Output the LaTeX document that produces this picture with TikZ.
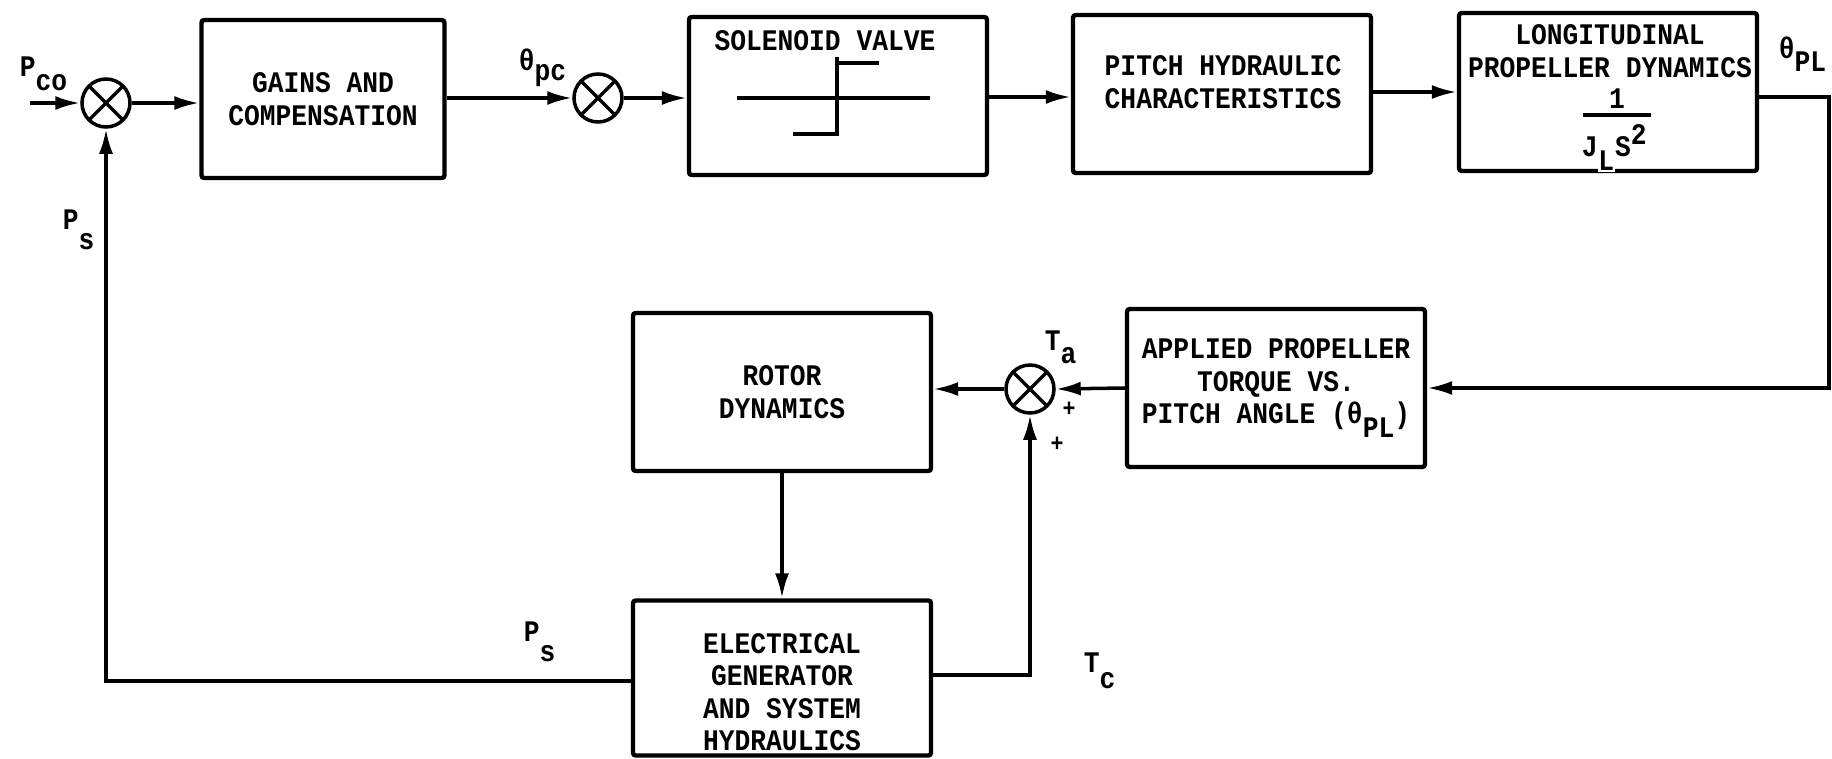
\documentclass[tikz,border=0pt]{standalone}
\usepackage{fontspec}
\setmainfont[FakeStretch=0.88]{Liberation Mono}
\usetikzlibrary{arrows.meta,positioning,calc}
\newcommand{\lo}[2][0.45em]{\raisebox{-#1}{#2}}
\newcommand{\hi}[2][0.8em]{\raisebox{#1}{#2}}

\begin{document}
\begin{tikzpicture}[x=0.02cm, y=-0.02cm, line width=2pt, >={Latex[length=0.5cm,width=0.28cm]},
    font=\fontsize{17}{18.5}\selectfont\bfseries,
    block/.style={draw, line width=2.5pt, rounded corners=1.5pt, minimum width=5.96cm, minimum height=3.16cm, align=center, inner sep=0pt},
    sumj/.style={draw, circle, minimum size=0.96cm, inner sep=0pt,
      path picture={\draw[line width=1.9pt] (path picture bounding box.north west) -- (path picture bounding box.south east)
        (path picture bounding box.north east) -- (path picture bounding box.south west);}},
    lbl/.style={inner sep=0pt, anchor=base west},
    sgn/.style={inner sep=0pt, font=\fontsize{14}{14}\selectfont\bfseries}]
  \useasboundingbox (0,0) rectangle (1832,758);
  % forward path
  \coordinate (in) at (30,103);
  \node[sumj] (s1) at (106,103) {};
  \node[block, minimum width=4.86cm] (gains) at (323,99) {GAINS AND\\COMPENSATION};
  \node[sumj] (s2) at (598,98) {};
  \node[block] (sol) at (838,96) {};
  \node[inner sep=0pt] (soltxt) at (825,41) {SOLENOID VALVE};
  \draw (737,98) -- (930,98);
  \draw (793,134) -- (837,134) -- (837,57);
  \draw (837,63) -- (879,63);
  \node[block] (pitch) at (1222,94) {};
  \node[inner sep=0pt, align=center] (pitchtxt) at (1223,82) {PITCH HYDRAULIC\\CHARACTERISTICS};
  \node[block] (long) at (1608,92) {};
  \node[inner sep=0pt, align=center] (longtxt) at (1610,51) {LONGITUDINAL\\PROPELLER DYNAMICS};
  \node[inner sep=0pt] (one) at (1617,99) {1};
  \draw (1583,115) -- (1651,115);
  \node[lbl] (den) at (1580,156) {J\lo[0.5em]{{\setlength\fboxsep{0.5pt}\colorbox{white}{L}}}S\hi[0.4em]{2}};
  \coordinate (rgt) at (1829,0);
  % return path
  \node[block] (appl) at (1276,388) {APPLIED PROPELLER\\TORQUE VS.\\PITCH ANGLE (θ\lo{PL})};
  \node[sumj] (s3) at (1030,389) {};
  \node[block] (rotor) at (782,392) {ROTOR\\DYNAMICS};
  \node[block, minimum height=3.1cm] (elec) at (782,678) {};
  \node[inner sep=0pt, align=center] (electxt) at (782,692) {ELECTRICAL\\GENERATOR\\AND SYSTEM\\HYDRAULICS};
  % labels
  \node[lbl] (pco) at (18,76) {P\lo[0.5em]{co}};
  \node[lbl] (thpc) at (517,70) {θ\lo[0.35em]{pc}};
  \node[lbl] (thpl) at (1777,58) {θ\lo{PL}};
  \node[lbl] (ps1) at (61,229) {P\lo[0.7em]{s}};
  \node[lbl] (ps2) at (522,641) {P\lo[0.7em]{s}};
  \node[lbl] (ta) at (1043,350) {T\lo{a}};
  \node[lbl] (tc) at (1082,672) {T\lo[0.55em]{c}};
  \node[sgn] (pl1) at (1069,409) {+};
  \node[sgn] (pl2) at (1057,444) {+};
  % connectors
  \draw[->] (in) -- (s1);
  \draw[->] (s1.east) -- (s1.east -| gains.west);
  \draw[->] (gains.east |- s2) -- (s2.west);
  \draw[->] (s2.east) -- (s2.east -| sol.west);
  \draw[->] (sol.east |- 0,97) -- (pitch.west |- 0,97);
  \draw[->] (pitch.east |- 0,92) -- (long.west |- 0,92);
  \draw[->] (long.east |- 0,97) -- (rgt |- 0,97) |- (appl.east);
  \draw[->] (appl.west) -- (s3.east);
  \draw[->] (s3.west) -- (rotor.east |- s3);
  \draw[->] (rotor.south) -- (elec.north);
  \draw[->] (elec.east |- 0,675) -| (s3.south);
  \draw[->] (elec.west |- 0,681) -| (s1.south);
\end{tikzpicture}
\end{document}
